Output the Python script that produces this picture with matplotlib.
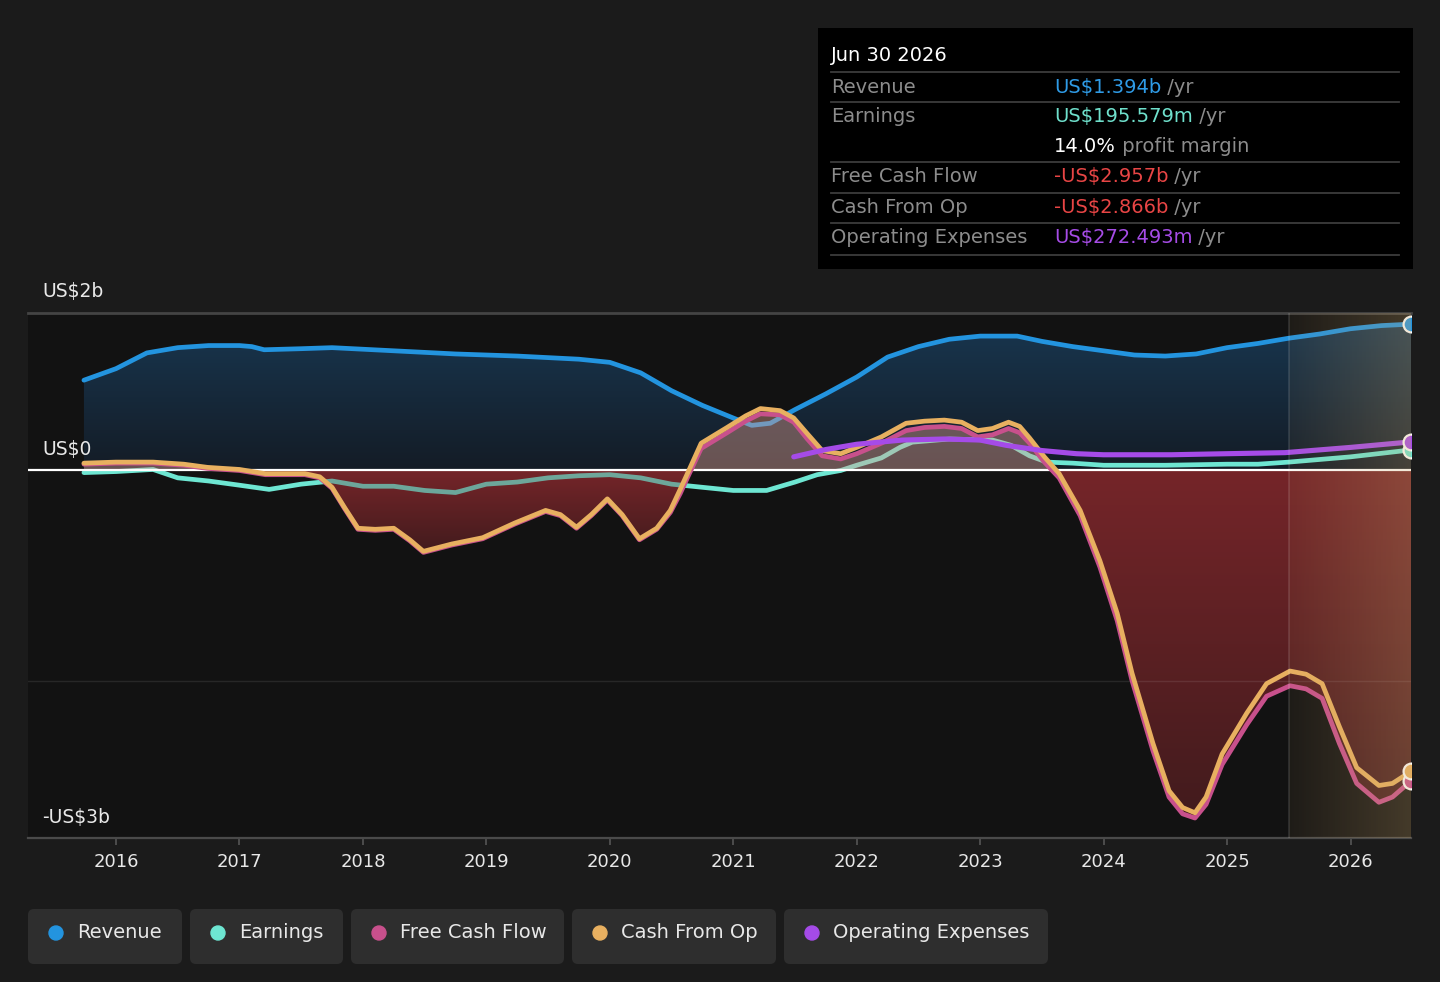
import numpy as np
import matplotlib.pyplot as plt
from matplotlib.patches import PathPatch, FancyBboxPatch, Rectangle, Circle
from matplotlib.path import Path

# ---- data (US$ billions, x in decimal years) ----
rev_x = [2015.74, 2016.0, 2016.25, 2016.5, 2016.75, 2017.0, 2017.1, 2017.2, 2017.5, 2017.75,
         2018.25, 2018.75, 2019.25, 2019.75, 2020.0, 2020.25, 2020.5, 2020.75, 2021.0, 2021.15,
         2021.3, 2021.5, 2021.75, 2022.0, 2022.25, 2022.5, 2022.75, 2023.0, 2023.3, 2023.5,
         2023.75, 2024.0, 2024.25, 2024.5, 2024.75, 2025.0, 2025.25, 2025.5, 2025.75, 2026.0,
         2026.25, 2026.49]
revenue = [0.86, 0.97, 1.12, 1.17, 1.19, 1.19, 1.18, 1.15, 1.16, 1.17,
           1.14, 1.11, 1.09, 1.06, 1.03, 0.93, 0.76, 0.62, 0.50, 0.43,
           0.45, 0.58, 0.73, 0.89, 1.08, 1.18, 1.25, 1.28, 1.28, 1.23,
           1.18, 1.14, 1.10, 1.09, 1.11, 1.17, 1.21, 1.26, 1.30, 1.35,
           1.38, 1.394]

earn_x = [2015.74, 2016.0, 2016.3, 2016.5, 2016.75, 2017.0, 2017.24, 2017.5, 2017.75, 2018.0,
          2018.25, 2018.5, 2018.75, 2019.0, 2019.25, 2019.5, 2019.75, 2020.0, 2020.25, 2020.5,
          2020.75, 2021.0, 2021.27, 2021.5, 2021.68, 2021.87, 2022.0, 2022.2, 2022.35, 2022.45,
          2022.75, 2023.1, 2023.25, 2023.4, 2023.54, 2023.75, 2024.0, 2024.5, 2025.0, 2025.25,
          2025.5, 2026.0, 2026.49]
earnings = [-0.02, -0.01, 0.01, -0.07, -0.10, -0.14, -0.18, -0.13, -0.10, -0.15,
            -0.15, -0.19, -0.21, -0.13, -0.11, -0.07, -0.05, -0.04, -0.07, -0.13,
            -0.16, -0.19, -0.19, -0.11, -0.04, 0.0, 0.05, 0.12, 0.22, 0.27,
            0.30, 0.29, 0.24, 0.14, 0.08, 0.07, 0.05, 0.05, 0.06, 0.06,
            0.08, 0.13, 0.196]

cash_x = [2015.74, 2016.0, 2016.3, 2016.55, 2016.74, 2017.0, 2017.21, 2017.53, 2017.65, 2017.75,
          2017.85, 2017.96, 2018.1, 2018.25, 2018.38, 2018.49, 2018.72, 2018.97, 2019.23, 2019.48,
          2019.6, 2019.73, 2019.85, 2019.98, 2020.1, 2020.24, 2020.38, 2020.49, 2020.57, 2020.64,
          2020.74, 2020.95, 2021.1, 2021.22, 2021.38, 2021.49, 2021.6, 2021.72, 2021.87, 2022.0,
          2022.2, 2022.4, 2022.55, 2022.71, 2022.85, 2022.98, 2023.1, 2023.23, 2023.32, 2023.4,
          2023.52, 2023.64, 2023.81, 2023.97, 2024.11, 2024.23, 2024.4, 2024.53, 2024.64, 2024.74,
          2024.83, 2024.96, 2025.16, 2025.32, 2025.51, 2025.64, 2025.77, 2025.91, 2026.05, 2026.23,
          2026.34, 2026.49]
cash_from_op = [0.07, 0.08, 0.08, 0.06, 0.03, 0.01, -0.03, -0.03, -0.06, -0.16,
                -0.35, -0.55, -0.56, -0.55, -0.66, -0.77, -0.70, -0.64, -0.50, -0.38,
                -0.42, -0.54, -0.42, -0.27, -0.42, -0.65, -0.55, -0.38, -0.18, 0.0,
                0.26, 0.41, 0.52, 0.59, 0.57, 0.50, 0.35, 0.19, 0.16, 0.22,
                0.32, 0.45, 0.47, 0.48, 0.46, 0.38, 0.40, 0.46, 0.42, 0.31,
                0.13, -0.03, -0.38, -0.86, -1.36, -1.93, -2.60, -3.05, -3.21, -3.26,
                -3.11, -2.70, -2.31, -2.03, -1.91, -1.94, -2.03, -2.44, -2.83, -3.00,
                -2.98, -2.866]
free_cash_flow = [0.06, 0.07, 0.07, 0.05, 0.02, 0.0, -0.04, -0.04, -0.07, -0.17,
                  -0.36, -0.56, -0.57, -0.56, -0.67, -0.78, -0.71, -0.65, -0.51, -0.39,
                  -0.43, -0.55, -0.43, -0.28, -0.43, -0.66, -0.56, -0.40, -0.22, -0.04,
                  0.21, 0.36, 0.47, 0.54, 0.53, 0.46, 0.30, 0.14, 0.11, 0.16,
                  0.26, 0.38, 0.41, 0.42, 0.40, 0.32, 0.34, 0.40, 0.36, 0.26,
                  0.08, -0.07, -0.43, -0.92, -1.43, -2.00, -2.67, -3.11, -3.27, -3.31,
                  -3.18, -2.80, -2.42, -2.15, -2.05, -2.08, -2.17, -2.60, -2.98, -3.16,
                  -3.11, -2.957]

opex_x = [2021.49, 2021.75, 2022.0, 2022.37, 2022.71, 2023.0, 2023.21, 2023.5, 2023.78, 2024.0,
          2024.55, 2025.0, 2025.47, 2026.0, 2026.49]
opex = [0.13, 0.20, 0.25, 0.29, 0.30, 0.29, 0.24, 0.19, 0.16, 0.15,
        0.15, 0.16, 0.17, 0.22, 0.2725]

years = list(range(2016, 2027))
forecast_start = 2025.5
x_lim = (2015.287, 2026.49)
y_lim = (-3.5, 1.5)
y_labels = {1.5: "US$2b", 0.0: "US$0", -3.5: "-US$3b"}

C_REV = "#2394df"
C_EARN = "#6ee6d2"
C_FCF = "#c8508c"
C_CFO = "#e8b060"
C_OPEX = "#a54be8"
LW = 3.4

W, H = 1440, 982
fig = plt.figure(figsize=(W / 100, H / 100), dpi=100, facecolor="#1b1b1b")
ax = fig.add_axes([28 / W, 1 - 838 / H, (1411 - 28) / W, (838 - 313) / H], facecolor="#121212")


def rgb(h):
    return tuple(int(h[i:i + 2], 16) / 255 for i in (1, 3, 5))


def gradient_in(ax, path, extent, c_a, c_b, a_a, a_b, z, horizontal=False):
    # linear gradient (a -> b, bottom->top or left->right) clipped to a path
    clip = PathPatch(path, transform=ax.transData, facecolor="none", edgecolor="none")
    ax.add_patch(clip)
    t = np.linspace(0, 1, 256)
    shape = (2, 256, 4) if horizontal else (256, 2, 4)
    img = np.zeros(shape)
    vals = [np.array(c_a[k]) + (c_b[k] - c_a[k]) * t for k in range(3)] + [a_a + (a_b - a_a) * t]
    for k, v in enumerate(vals):
        img[:, :, k] = v[None, :] if horizontal else v[:, None]
    im = ax.imshow(img, extent=extent, origin="lower", aspect="auto",
                   interpolation="bilinear", zorder=z)
    im.set_clip_path(clip)
    return clip


# revenue area
rx = np.array(rev_x)
rv = np.array(revenue)
rc = ax.fill_between(rx, rv, 0, facecolor="none", edgecolor="none")
gradient_in(ax, Path.make_compound_path(*rc.get_paths()), (x_lim[0], x_lim[1], 0, 1.4),
            rgb("#141c26"), rgb("#18364f"), 1, 1, 1)
ax.plot(rx, rv, color=C_REV, lw=LW, zorder=3, solid_capstyle="round")

ax.plot(earn_x, earnings, color=C_EARN, lw=LW, zorder=3, solid_capstyle="round")

# free cash flow areas
fx = np.array(cash_x)
fv = np.array(free_cash_flow)
ax.fill_between(fx, fv, 0, where=fv >= 0, interpolate=True, color="#e0a090",
                alpha=0.42, lw=0, zorder=4)
nc = ax.fill_between(fx, fv, 0, where=fv <= 0, interpolate=True, facecolor="none",
                     edgecolor="none")
neg_clips = []
for p in nc.get_paths():
    vx, vy = p.vertices[:, 0], p.vertices[:, 1]
    if vy.min() > -0.05:
        continue
    neg_clips.append(gradient_in(ax, p, (vx.min(), vx.max(), vy.min(), 0),
                                 rgb("#421b1d"), rgb("#752529"), 1, 1, 4))

# earnings seen through the red area
for clip in neg_clips:
    ln, = ax.plot(earn_x, earnings, color=C_EARN, lw=LW, alpha=0.68, zorder=4.1)
    ln.set_clip_path(clip)

ax.axhline(0, color="white", lw=1.6, zorder=4.5)
ax.axhline(-2, color="white", alpha=0.09, lw=1, zorder=4.2)
ax.axhline(1.5, color="#444444", lw=2, zorder=0.5, clip_on=False)

ax.plot(cash_x, free_cash_flow, color=C_FCF, lw=LW, zorder=5, solid_capstyle="round")
ax.plot(cash_x, cash_from_op, color=C_CFO, lw=LW, zorder=5.1, solid_capstyle="round")
ax.plot(opex_x, opex, color=C_OPEX, lw=3.7, zorder=6, solid_capstyle="round")

# end markers
for xs, ys, c in [(rev_x, revenue, C_REV), (earn_x, earnings, C_EARN),
                  (opex_x, opex, C_OPEX), (cash_x, free_cash_flow, C_FCF),
                  (cash_x, cash_from_op, C_CFO)]:
    ax.scatter([xs[-1]], [ys[-1]], s=130, color=c, edgecolor="white", lw=1.6, zorder=6.5)

# forecast shading
fb = ax.fill_between([forecast_start, x_lim[1]], y_lim[0], y_lim[1], facecolor="none",
                     edgecolor="none")
gradient_in(ax, fb.get_paths()[0], (forecast_start, x_lim[1], y_lim[0], y_lim[1]),
            rgb("#c8a064"), rgb("#d0aa6c"), 0.07, 0.27, 7, horizontal=True)
ax.axvline(forecast_start, color="white", alpha=0.13, lw=1.2, zorder=7)

ax.set_xlim(*x_lim)
ax.set_ylim(*y_lim)
ax.set_yticks([])
ax.set_xticks(years)
ax.set_xticklabels([str(y) for y in years])
ax.tick_params(axis="x", colors="#555555", length=5, width=1.2, labelcolor="#e8e8e8",
               labelsize=13, pad=6)
for s in ("top", "left", "right"):
    ax.spines[s].set_visible(False)
ax.spines["bottom"].set_color("#4a4a4a")
ax.spines["bottom"].set_linewidth(1.6)

for v, lab in y_labels.items():
    ax.annotate(lab, xy=(0, v), xycoords=("axes fraction", "data"), xytext=(14, 21),
                textcoords="offset pixels", va="center", ha="left", color="#e8e8e8",
                fontsize=13.5, annotation_clip=False)

# ---- tooltip + legend in pixel coords ----
ov = fig.add_axes([0, 0, 1, 1], zorder=10)
ov.set_xlim(0, W)
ov.set_ylim(H, 0)
ov.axis("off")

ov.add_patch(Rectangle((818, 28), 595, 241, facecolor="#000000", edgecolor="none"))
ov.text(831, 55, "Jun 30 2026", color="white", fontsize=14, va="center")
for yy in [72, 102, 162, 193, 223, 255]:
    ov.plot([831, 1399], [yy, yy], color="#3c3c3c", lw=1.3)

tip_rows = [("Revenue", "US$1.394b", "#2f9be6", " /yr", 87),
            ("Earnings", "US$195.579m", "#6fe0cc", " /yr", 116),
            ("", "14.0%", "#ffffff", " profit margin", 146),
            ("Free Cash Flow", "-US$2.957b", "#e84545", " /yr", 176),
            ("Cash From Op", "-US$2.866b", "#e84545", " /yr", 207),
            ("Operating Expenses", "US$272.493m", "#a64ce6", " /yr", 237)]
for lab, val, col, suf, yy in tip_rows:
    ov.text(831, yy, lab, color="#8c8c8c", fontsize=14, va="center")
    t = ov.text(1054, yy, val, color=col, fontsize=14, va="center")
    ov.annotate(suf, xy=(1, 0), xycoords=t, va="bottom", ha="left", color="#8c8c8c",
                fontsize=14)

legend_items = [("Revenue", C_REV, 28, 182), ("Earnings", C_EARN, 190, 343),
                ("Free Cash Flow", C_FCF, 351, 564), ("Cash From Op", C_CFO, 572, 776),
                ("Operating Expenses", C_OPEX, 784, 1048)]
for name, col, x0, x1 in legend_items:
    ov.add_patch(FancyBboxPatch((x0, 909), x1 - x0, 55,
                                boxstyle="round,pad=0,rounding_size=6",
                                facecolor="#2e2e2e", edgecolor="none"))
    ov.add_patch(Circle((x0 + 28, 933), 7, color=col))
    ov.text(x0 + 49, 933, name, color="#e8e8e8", fontsize=14, va="center")

fig.savefig("out.png", dpi=100, facecolor=fig.get_facecolor())
